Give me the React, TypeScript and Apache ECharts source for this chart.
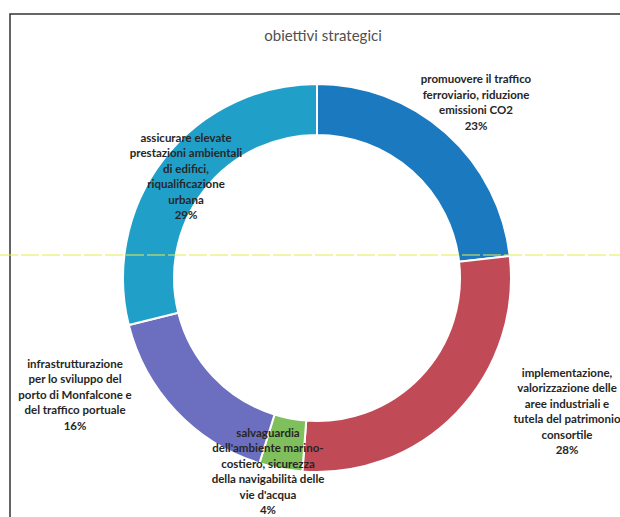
import React, { useEffect, useRef } from "react";
import * as echarts from "echarts";

const TITLE = "obiettivi strategici";
const categories = [
  "promuovere il traffico\nferroviario, riduzione\nemissioni CO2",
  "implementazione,\nvalorizzazione delle\naree industriali e\ntutela del patrimonio\nconsortile",
  "salvaguardia\ndell'ambiente marino-\ncostiero, sicurezza\ndella navigabilità delle\nvie d'acqua",
  "infrastrutturazione\nper lo sviluppo del\nporto di Monfalcone e\ndel traffico portuale",
  "assicurare elevate\nprestazioni ambientali\ndi edifici,\nriqualificazione\nurbana",
];
const values = [23.2, 28.0, 3.6, 16.3, 28.9];
const colors = ["#1b79bf", "#c14a57", "#80c05c", "#6c6ec0", "#20a0c9"];
// label anchor points (centre of each label block)
const labelPos: [number, number][] = [
  [476, 102],
  [567, 411],
  [268, 471],
  [75, 394],
  [186, 176],
];

export default function App() {
  const ref = useRef<HTMLDivElement>(null);
  useEffect(() => {
    if (!ref.current) return;
    const chart = echarts.init(ref.current, null, { renderer: "svg" });
    chart.setOption({
      animation: false,
      backgroundColor: "#ffffff",
      title: {
        text: TITLE,
        left: 318,
        top: 22,
        textAlign: "center",
        textStyle: {
          fontFamily: "Lato",
          fontSize: 15,
          fontWeight: "normal",
          color: "#505050",
        },
      },
      graphic: [
        {
          type: "rect",
          shape: { x: 10, y: 14, width: 640, height: 540 },
          style: { fill: "none", stroke: "#333333", lineWidth: 1.5 },
          z: -1,
        },
        {
          type: "line",
          shape: { x1: 0, y1: 255, x2: 620, y2: 255 },
          style: { stroke: "#e4ec50", lineWidth: 1, lineDash: [18, 3] },
          z: 100,
        },
      ],
      series: [
        {
          type: "pie",
          center: [317, 278],
          radius: [143, 194],
          startAngle: 90,
          clockwise: true,
          avoidLabelOverlap: false,
          itemStyle: { borderColor: "#ffffff", borderWidth: 2 },
          label: {
            show: true,
            position: "outside",
            formatter: (p: any) => `${p.name}\n${Math.round(p.percent)}%`,
            fontFamily: "Lato",
            fontSize: 11.5,
            fontWeight: "bold",
            color: "#262626",
            lineHeight: 15.5,
            align: "center",
          },
          labelLine: { show: false },
          labelLayout: (p: any) => ({
            x: labelPos[p.dataIndex][0],
            y: labelPos[p.dataIndex][1],
            align: "center",
            verticalAlign: "middle",
            hideOverlap: false,
          }),
          emphasis: { disabled: true },
          data: categories.map((name, i) => ({
            name,
            value: values[i],
            itemStyle: { color: colors[i] },
          })),
        },
      ],
    });
    return () => chart.dispose();
  }, []);
  return (
    <div
      ref={ref}
      style={{ position: "fixed", left: 0, top: 0, width: 620, height: 517 }}
    />
  );
}
